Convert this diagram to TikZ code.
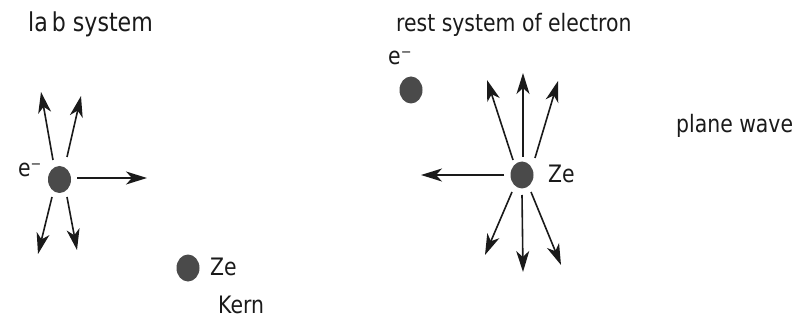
\documentclass[tikz,border=0pt]{standalone}
\usepackage{fontspec}
\setmainfont{DejaVu Sans}[FakeStretch=0.85]
\usetikzlibrary{arrows.meta,shapes.geometric}
\definecolor{dotgray}{HTML}{4A4A4A}
\definecolor{txt}{HTML}{1A1A1A}
\tikzset{
  particle/.style={ellipse,fill=dotgray,draw=none,minimum width=23pt,minimum height=27pt,inner sep=0pt},
  lbl/.style={font=\fontsize{24}{28}\selectfont,inner sep=0pt,text=txt,anchor=base west},
  ray/.style={line width=1.6pt,draw=txt,-{Stealth[length=21pt,width=13pt,inset=6pt]}}
}
\begin{document}
\begin{tikzpicture}[x=1pt,y=-1pt]
\useasboundingbox (0,0) rectangle (799,320);
% titles
\node[lbl,font=\fontsize{26}{30}\selectfont] (t1) at (28,32) {la\kern4pt b system};
\node[lbl] (t2) at (396,32) {rest system of electron};
\node[lbl] (pw) at (676,133) {plane wave};
% lab system
\node[particle] (e1) at (59.5,179.5) {};
\node[lbl] (e1l) at (18,177) {e⁻};
\coordinate (a1) at (41,92);
\coordinate (a2) at (81,96);
\coordinate (a3) at (147,178);
\coordinate (a4) at (38,254);
\coordinate (a5) at (77,250);
\draw[ray] (53,160) -- (a1);
\draw[ray] (67,157) -- (a2);
\draw[ray] (77,178) -- (a3);
\draw[ray] (52,197) -- (a4);
\draw[ray] (67,197) -- (a5);
\node[particle] (k1) at (188,268) {};
\node[lbl] (k1l) at (210,275) {Ze};
\node[lbl] (kern) at (218,313) {Kern};
% rest system
\node[particle] (e2) at (411,90) {};
\node[lbl] (e2l) at (388,65) {e⁻};
\node[particle] (k2) at (522,175) {};
\node[lbl] (k2l) at (548,183) {Ze};
\coordinate (b1) at (487,80);
\coordinate (b2) at (523,73);
\coordinate (b3) at (558,81);
\coordinate (b4) at (421,175);
\coordinate (b5) at (485,255);
\coordinate (b6) at (523,272);
\coordinate (b7) at (561,265);
\draw[ray] (513,160) -- (b1);
\draw[ray] (523,157) -- (b2);
\draw[ray] (535,158) -- (b3);
\draw[ray] (504,175) -- (b4);
\draw[ray] (512,192) -- (b5);
\draw[ray] (522,195) -- (b6);
\draw[ray] (531,192) -- (b7);
\end{tikzpicture}
\end{document}
